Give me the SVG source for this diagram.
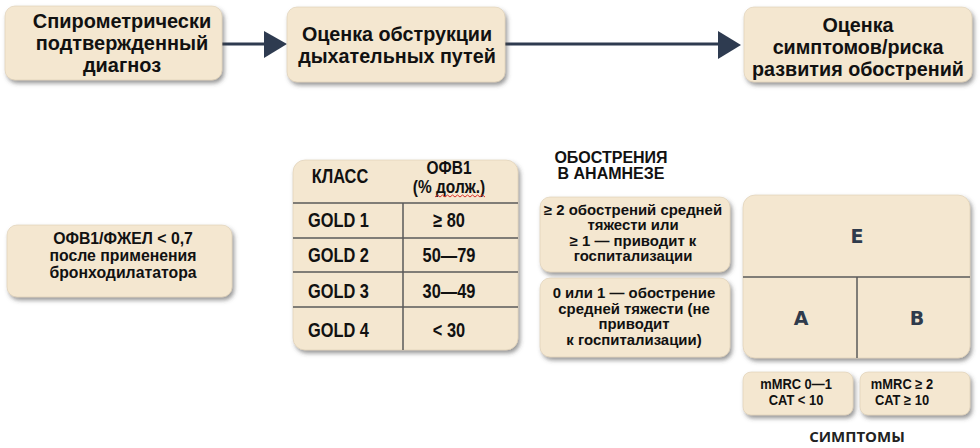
<svg xmlns="http://www.w3.org/2000/svg" width="980" height="448" viewBox="0 0 980 448">
<defs>
<filter id="sh" x="-10%" y="-10%" width="130%" height="140%">
<feDropShadow dx="2" dy="3" stdDeviation="2" flood-color="#444" flood-opacity="0.55"/>
</filter>
</defs>
<style>
.box{fill:#f4e7d0;stroke:#dccdb1;stroke-width:0.6;filter:url(#sh)}
.t{font-family:"Liberation Sans",Arial,sans-serif;font-weight:bold;fill:#111;text-anchor:middle}
.tl{font-family:"Liberation Sans",Arial,sans-serif;font-weight:bold;fill:#111;text-anchor:start}
.big{font-size:21px}
.mid{font-size:20px}
.hd{font-size:18px}
.fv{font-size:17px}
.ex{font-size:16px}
.sm{font-size:14.5px}
.xs{font-size:14.5px}
.let{font-family:"DejaVu Sans",sans-serif;font-weight:bold;font-size:19px;fill:#2f3b4c;text-anchor:middle}
.grid{stroke:#5a5a5a;stroke-width:1.5;fill:none}
.conn{stroke:#2e3b50;stroke-width:3;fill:none}
.head{fill:#2e3b50}
.sym{font-family:"Open Sans",sans-serif;font-weight:bold;font-size:15px;fill:#222;text-anchor:middle}
</style>

<g id="connectors">
<line class="conn" x1="222" y1="44" x2="266" y2="44"/>
<polygon class="head" points="264,31 287,44 264,58"/>
<line class="conn" x1="505" y1="44" x2="720" y2="44"/>
<polygon class="head" points="718,31 741,45 718,59"/>
</g>

<g id="n-diag">
<rect class="box" x="5" y="6" width="217" height="74" rx="10"/>
<g transform="translate(122,0) scale(0.95,1)">
<text class="t big" x="0" y="28">Спирометрически</text>
<text class="t big" x="0" y="50">подтвержденный</text>
<text class="t big" x="0" y="72">диагноз</text>
</g>
</g>

<g id="n-obstr">
<rect class="box" x="287" y="7" width="218" height="75" rx="10"/>
<g transform="translate(397,0) scale(0.94,1)">
<text class="t big" x="0" y="41">Оценка обструкции</text>
<text class="t big" x="0" y="63">дыхательных путей</text>
</g>
</g>

<g id="n-sympt">
<rect class="box" x="744" y="7" width="228" height="75" rx="10"/>
<g transform="translate(858,0) scale(0.94,1)">
<text class="t big" x="0" y="32">Оценка</text>
<text class="t big" x="0" y="54">симптомов/риска</text>
<text class="t big" x="0" y="76">развития обострений</text>
</g>
</g>

<g id="n-fev">
<rect class="box" x="7" y="225" width="225" height="72" rx="10"/>
<g transform="translate(123,0) scale(0.93,1)">
<text class="t fv" x="0" y="244">ОФВ1/ФЖЕЛ &lt; 0,7</text>
<text class="t fv" x="0" y="261">после применения</text>
<text class="t fv" x="0" y="278">бронходилататора</text>
</g>
</g>

<g id="n-table">
<rect class="box" x="293" y="160" width="225" height="190" rx="12"/>
<line class="grid" x1="293" y1="203" x2="518" y2="203"/>
<line class="grid" x1="293" y1="238" x2="518" y2="238"/>
<line class="grid" x1="293" y1="272" x2="518" y2="272"/>
<line class="grid" x1="293" y1="307" x2="518" y2="307"/>
<line class="grid" x1="403" y1="203" x2="403" y2="350"/>
<g transform="translate(340,0) scale(0.82,1)">
<text class="t mid" x="0" y="183">КЛАСС</text>
</g>
<g transform="translate(449,0) scale(0.86,1)">
<text class="t hd" x="0" y="174">ОФВ1</text>
<text class="t hd" x="0" y="193">(% долж.)</text>
</g>
<g transform="translate(449,0) scale(0.82,1)">
<text class="t mid" x="0" y="227">≥ 80</text>
<text class="t mid" x="0" y="262">50—79</text>
<text class="t mid" x="0" y="298">30—49</text>
<text class="t mid" x="0" y="337">&lt; 30</text>
</g>
<path d="M435,197 l2.5,-2 l2.5,2 l2.5,-2 l2.5,2 l2.5,-2 l2.5,2 l2.5,-2 l2.5,2 l2.5,-2 l2.5,2 l2.5,-2 l2.5,2 l2.5,-2 l2.5,2 l2.5,-2 l2.5,2 l2.5,-2 l2.5,2 l2.5,-2 l2.5,2" stroke="#d9302a" stroke-width="1" fill="none"/>
<g transform="translate(308,0) scale(0.82,1)">
<text class="tl mid" x="0" y="227">GOLD 1</text>
<text class="tl mid" x="0" y="262">GOLD 2</text>
<text class="tl mid" x="0" y="298">GOLD 3</text>
<text class="tl mid" x="0" y="337">GOLD 4</text>
</g>
</g>

<g id="n-exac-title">
<text class="t ex" x="611" y="163">ОБОСТРЕНИЯ</text>
<text class="t ex" x="611" y="179">В АНАМНЕЗЕ</text>
</g>

<g id="n-exac-high">
<rect class="box" x="540" y="197" width="190" height="75" rx="10"/>
<g transform="translate(633,0) scale(1.03,1)">
<text class="t sm" x="0" y="215">≥ 2 обострений средней</text>
<text class="t sm" x="0" y="230.5">тяжести или</text>
<text class="t sm" x="0" y="246">≥ 1 — приводит к</text>
<text class="t sm" x="0" y="261.5">госпитализации</text>
</g>
</g>

<g id="n-exac-low">
<rect class="box" x="540" y="278" width="190" height="79" rx="10"/>
<g transform="translate(634,0) scale(1.03,1)">
<text class="t sm" x="0" y="298.5">0 или 1 — обострение</text>
<text class="t sm" x="0" y="314">средней тяжести (не</text>
<text class="t sm" x="0" y="329.5">приводит</text>
<text class="t sm" x="0" y="345">к госпитализации)</text>
</g>
</g>

<g id="n-grid">
<rect class="box" x="743" y="195" width="227" height="163" rx="12"/>
<line class="grid" x1="743" y1="277" x2="970" y2="277"/>
<line class="grid" x1="857" y1="277" x2="857" y2="358"/>
<text class="let" x="857" y="243">E</text>
<text class="let" x="801" y="325">A</text>
<text class="let" x="917" y="325">B</text>
</g>

<g id="n-mmrc1">
<rect class="box" x="743" y="372" width="110" height="43" rx="8"/>
<g transform="translate(796,0) scale(0.89,1)">
<text class="t xs" x="0" y="389">mMRC 0—1</text>
<text class="t xs" x="0" y="405">CAT &lt; 10</text>
</g>
</g>

<g id="n-mmrc2">
<rect class="box" x="860" y="372" width="110" height="43" rx="8"/>
<g transform="translate(902,0) scale(0.89,1)">
<text class="t xs" x="0" y="389">mMRC ≥ 2</text>
<text class="t xs" x="0" y="405">CAT ≥ 10</text>
</g>
</g>

<g id="n-symlabel">
<text class="sym" x="857" y="442">СИМПТОМЫ</text>
</g>
</svg>
